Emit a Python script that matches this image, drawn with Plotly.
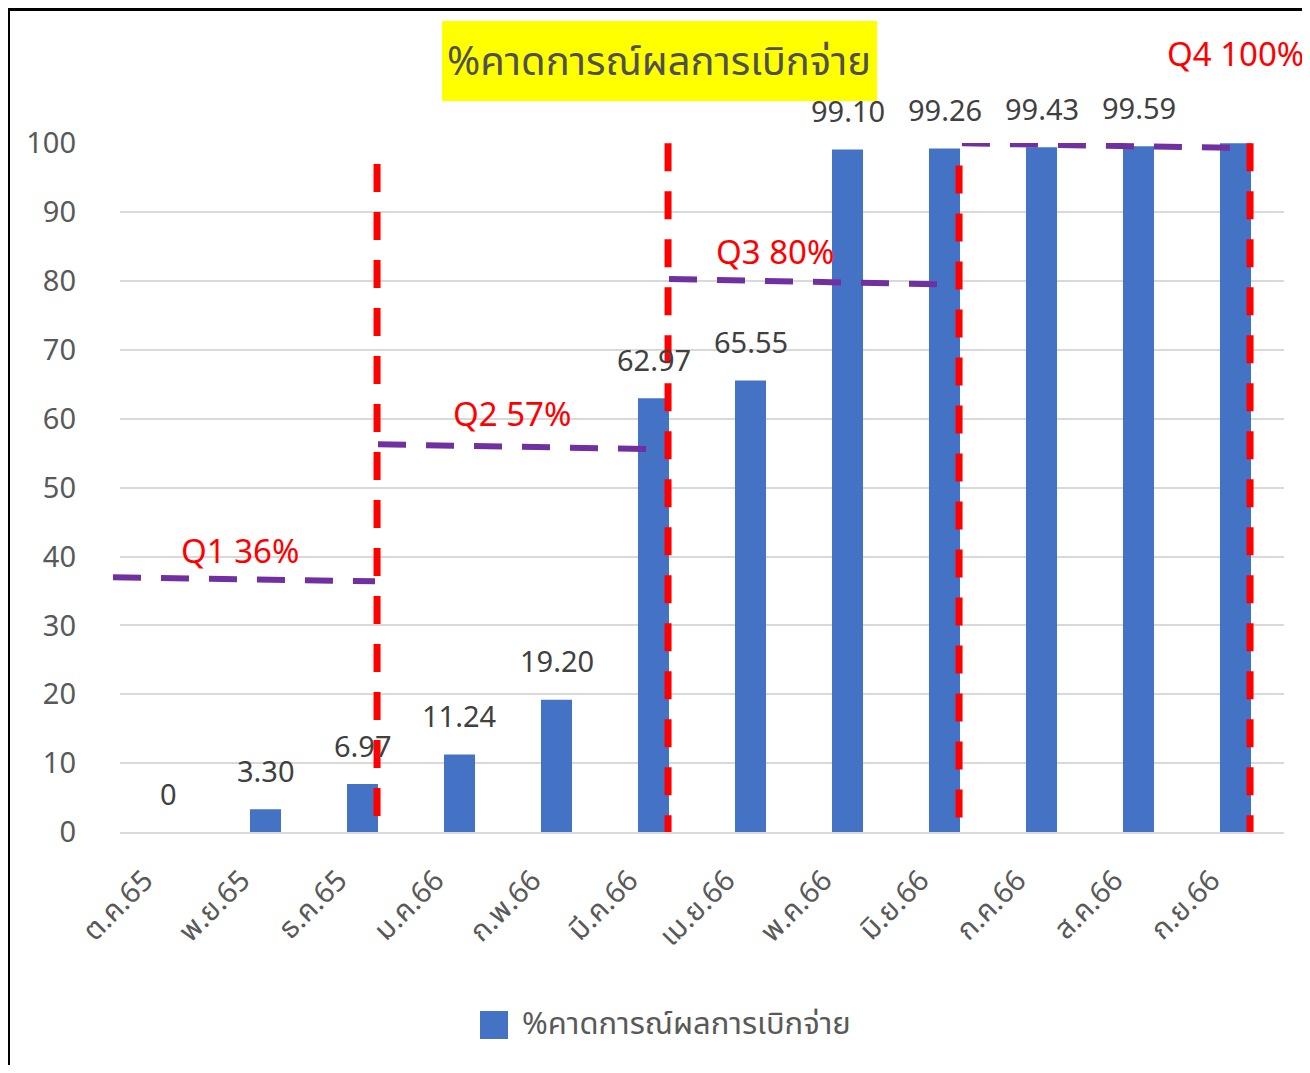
import plotly.graph_objects as go

# ---------------- data ----------------
months = ["ต.ค.65", "พ.ย.65", "ธ.ค.65", "ม.ค.66", "ก.พ.66", "มี.ค.66",
          "เม.ย.66", "พ.ค.66", "มิ.ย.66", "ก.ค.66", "ส.ค.66", "ก.ย.66"]
values = [0, 3.30, 6.97, 11.24, 19.20, 62.97, 65.55, 99.10, 99.26, 99.43, 99.59, 100]
value_labels = ["0", "3.30", "6.97", "11.24", "19.20", "62.97", "65.55",
                "99.10", "99.26", "99.43", "99.59", ""]
series_name = "%คาดการณ์ผลการเบิกจ่าย"
y_ticks = [0, 10, 20, 30, 40, 50, 60, 70, 80, 90, 100]

quarter_labels = ["Q1 36%", "Q2 57%", "Q3 80%", "Q4 100%"]
quarter_end_index = [2, 5, 8, 11]          # last month of each quarter
quarter_line_top = [97.0, 100.0, 96.8, 100.0]
target_start = [37.0, 56.3, 80.3, 100.0]   # hand-drawn target lines (start / end values)
target_end = [36.4, 55.6, 79.5, 99.3]

# ---------------- geometry helpers ----------------
OFF = 8                      # page body margin
W, H = 1310 - OFF, 1073 - 2 * OFF
L, R, T, B = 120 - OFF, 1284 - OFF, 143 - OFF, 832 - OFF


def pxx(p):  # reference-screenshot x pixel -> paper
    return (p - OFF - L) / (R - L)


def pxy(p):  # reference-screenshot y pixel -> paper
    return (B - (p - OFF)) / (B - T)


BLUE = "#4472C4"
RED = "#FF0000"
PURPLE = "#7030A0"
GRAY = "#595959"
FONT = "Noto Sans, Noto Sans Thai, Tahoma, sans-serif"

fig = go.Figure()
fig.add_trace(go.Bar(
    x=list(range(len(months))), y=values, width=0.32,
    marker=dict(color=BLUE, line=dict(width=0)),
    name=series_name, showlegend=False, hoverinfo="skip",
))

shapes = []
annotations = []

# data labels
for i, (v, lab) in enumerate(zip(values, value_labels)):
    if lab:
        annotations.append(dict(x=i, y=v, xref="x", yref="y", text=lab, showarrow=False,
                                yanchor="middle", yshift=39,
                                font=dict(size=29, color="#404040", family=FONT)))

# quarter vertical red dashed lines
for qi, top in zip(quarter_end_index, quarter_line_top):
    shapes.append(dict(type="line", xref="x", yref="y", x0=qi + 0.15, x1=qi + 0.15,
                       y0=top, y1=0, layer="above",
                       line=dict(color=RED, width=7, dash="28px,20px")))

# target purple dashed lines
x_starts = [-0.57, 2.16, 5.16, 8.18]
x_ends = [2.13, 4.96, 8.06, 11.15]
for k, (xs, xe, ys, ye) in enumerate(zip(x_starts, x_ends, target_start, target_end)):
    if k == 0:
        shapes.append(dict(type="line", xref="paper", yref="y", x0=pxx(113), x1=pxx(375),
                           y0=ys, y1=ye, layer="above",
                           line=dict(color=PURPLE, width=6, dash="28px,20px")))
    else:
        shapes.append(dict(type="line", xref="x", yref="y", x0=xs, x1=xe, y0=ys, y1=ye,
                           layer="above",
                           line=dict(color=PURPLE, width=6, dash="28px,20px")))

# quarter labels
q_pos = [(240, 550, "center"), (512, 413, "center"), (775, 251, "center"), (1306, 53, "right")]
for text, (px, py, anc) in zip(quarter_labels, q_pos):
    annotations.append(dict(x=pxx(px), y=pxy(py), xref="paper", yref="paper", text=text,
                            showarrow=False, xanchor=anc, yanchor="middle",
                            font=dict(size=33, color=RED, family=FONT)))

# title box
shapes.append(dict(type="rect", xref="paper", yref="paper", x0=pxx(442), x1=pxx(877),
                   y0=pxy(101), y1=pxy(21), fillcolor="#FFFF00", line=dict(width=0),
                   layer="below"))
annotations.append(dict(x=pxx(659), y=pxy(60), xref="paper", yref="paper",
                        text=series_name, showarrow=False, xanchor="center", yanchor="middle",
                        font=dict(size=40, color="#505050", family=FONT)))

# legend (manual, large swatch)
shapes.append(dict(type="rect", xref="paper", yref="paper", x0=pxx(480), x1=pxx(508),
                   y0=pxy(1039), y1=pxy(1011), fillcolor=BLUE, line=dict(width=0)))
annotations.append(dict(x=pxx(520), y=pxy(1022), xref="paper", yref="paper",
                        text=series_name, showarrow=False, xanchor="left", yanchor="middle",
                        font=dict(size=31, color=GRAY, family=FONT)))

# frame of the screenshot
shapes += [
    dict(type="line", xref="paper", yref="paper", x0=pxx(7), x1=pxx(1310), y0=pxy(9.5), y1=pxy(9.5),
         line=dict(color="#000000", width=3)),
    dict(type="line", xref="paper", yref="paper", x0=pxx(8.5), x1=pxx(8.5), y0=pxy(8), y1=pxy(1090),
         line=dict(color="#000000", width=3)),
    dict(type="line", xref="paper", yref="paper", x0=pxx(1307), x1=pxx(1307), y0=pxy(8),
         y1=pxy(1090), line=dict(color="#000000", width=3)),
]

fig.update_layout(
    width=W, height=H,
    margin=dict(l=L, r=W - R, t=T, b=H - B, autoexpand=False),
    paper_bgcolor="white", plot_bgcolor="white",
    font=dict(family=FONT, color=GRAY),
    showlegend=False,
    shapes=shapes, annotations=annotations,
    xaxis=dict(range=[-0.5, 11.5], tickvals=list(range(len(months))), ticktext=months,
               tickangle=-45, tickfont=dict(size=29, color=GRAY, family=FONT),
               showgrid=False, showline=True, linecolor="#D9D9D9", linewidth=1.5,
               ticks="", ticklabelstandoff=18, ticklabelshift=-24, zeroline=False),
    yaxis=dict(range=[0, 100.05], tickvals=y_ticks, showgrid=True, gridcolor="#D9D9D9",
               gridwidth=1.5, zeroline=False, tickfont=dict(size=29, color=GRAY, family=FONT),
               ticks="", ticklabelstandoff=43, showline=False),
)

fig.write_html("out.html")
